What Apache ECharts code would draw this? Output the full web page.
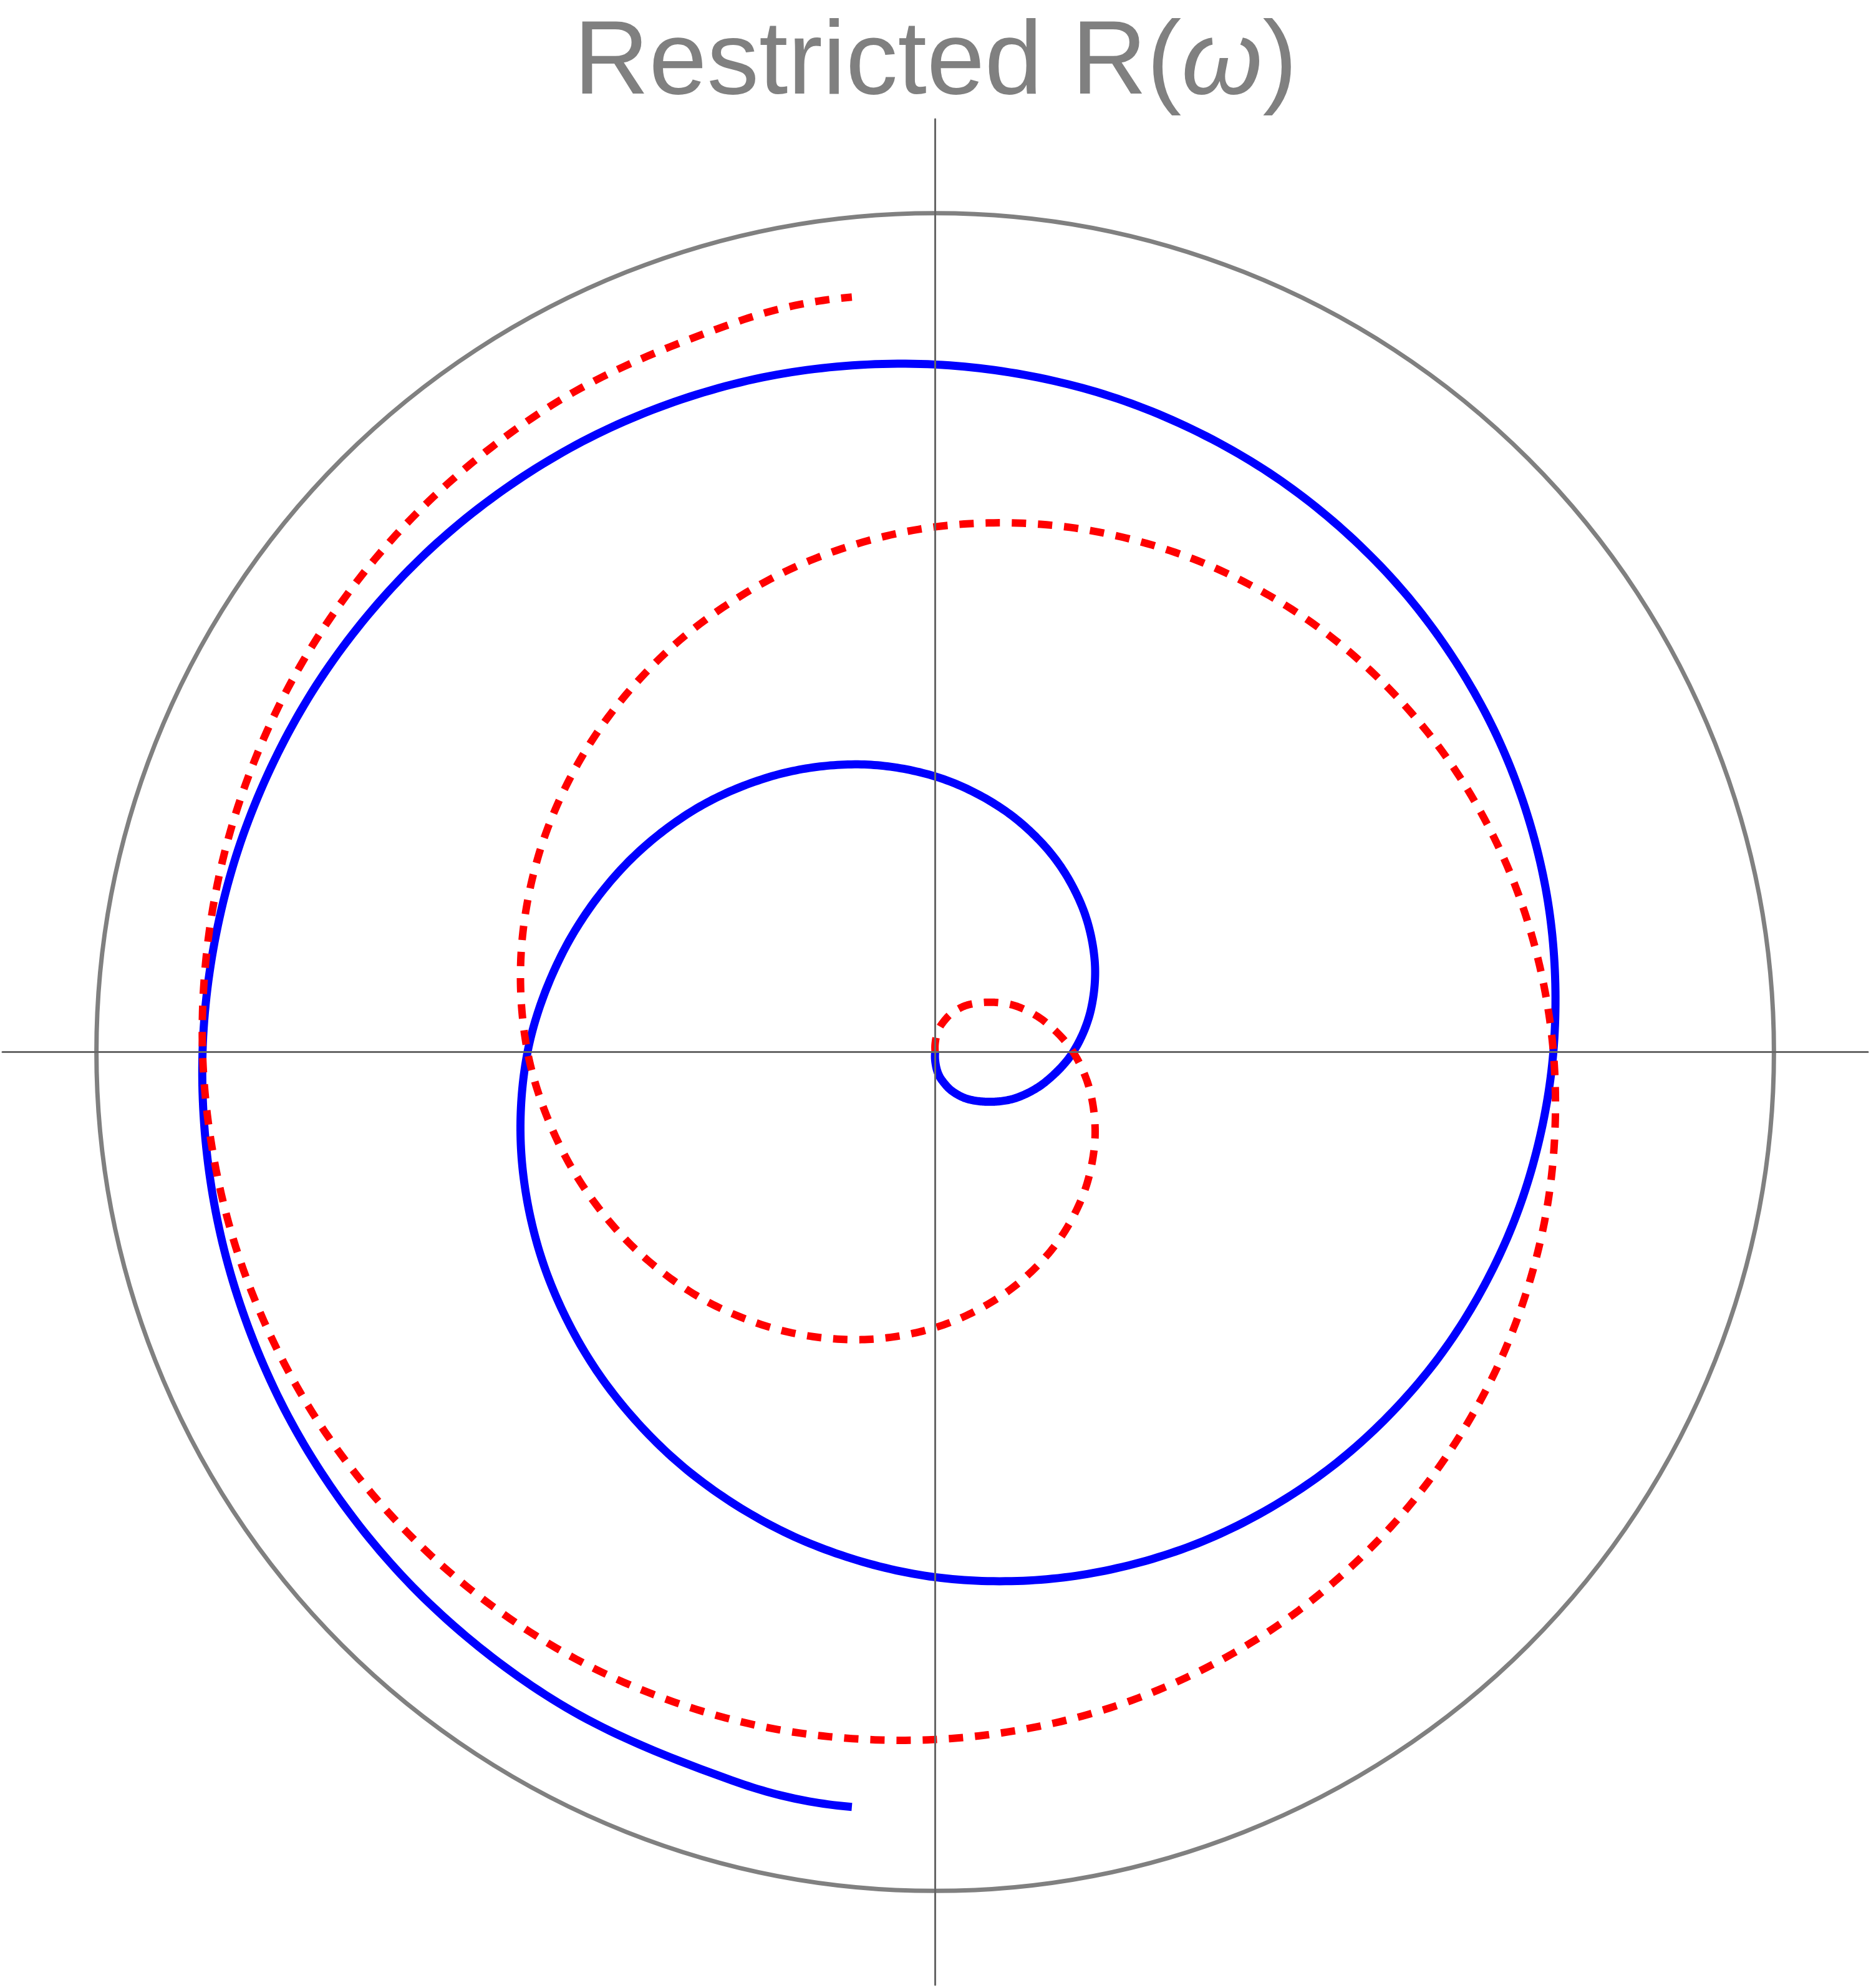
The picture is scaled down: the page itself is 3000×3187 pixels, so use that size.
<!DOCTYPE html>
<html>
<head>
<meta charset="utf-8">
<script src="https://cdn.jsdelivr.net/npm/echarts@6/dist/echarts.min.js"></script>
<style>
html,body{margin:0;padding:0;background:#fff;}
#chart{width:3000px;height:3187px;}
</style>
</head>
<body>
<div id="chart"></div>
<script>
// Title pieces
const titleMain = 'Restricted R(';
const titleSymbol = 'ω';
const titleEnd = ')';

// Unit reference circle radius (drawn as the polar angle-axis ring)
const unitRadius = 1;

// Solid blue curve R(ω): polar angle (deg) and modulus
const blueAngle = [
  270, 270, 276.3, 282.7, 293.2, 305.1, 319.5, 331.5, 345,
  0, 15, 30, 45, 60, 75, 90, 105, 120, 135, 150, 165,
  180, 195, 210, 225, 240, 255, 270, 285, 300, 315, 330, 345,
  0, 15, 30, 45, 60, 75, 90, 105, 120, 135, 150, 165,
  180, 195, 210, 225, 240, 255, 263.7
];
const blueRadius = [
  0, 0.0104, 0.0229, 0.0335, 0.0504, 0.0688, 0.0913, 0.1128, 0.1365,
  0.1645, 0.192, 0.2195, 0.247, 0.2745, 0.3015, 0.3285, 0.355, 0.381, 0.4075, 0.4335, 0.4595,
  0.486, 0.510, 0.5335, 0.557, 0.5805, 0.6035, 0.626, 0.6465, 0.6665, 0.6855, 0.7035, 0.7205,
  0.737, 0.7535, 0.769, 0.7835, 0.797, 0.809, 0.8195, 0.8305, 0.8405, 0.8495, 0.858, 0.866,
  0.8735, 0.8797, 0.8855, 0.8911, 0.8966, 0.9021, 0.9053
];

// Dashed red curve (its mirror image): polar angle (deg) and modulus
const redAngle = [
  90, 90, 83.7, 77.3, 66.8, 54.9, 40.5, 28.5, 15,
  0, 345, 330, 315, 300, 285, 270, 255, 240, 225, 210, 195,
  180, 165, 150, 135, 120, 105, 90, 75, 60, 45, 30, 15,
  0, 345, 330, 315, 300, 285, 270, 255, 240, 225, 210, 195,
  180, 165, 150, 135, 120, 105, 96.3
];
const redRadius = [
  0, 0.0104, 0.0229, 0.0335, 0.0504, 0.0688, 0.0913, 0.1128, 0.1365,
  0.1645, 0.192, 0.2195, 0.247, 0.2745, 0.3015, 0.3285, 0.355, 0.381, 0.4075, 0.4335, 0.4595,
  0.486, 0.510, 0.5335, 0.557, 0.5805, 0.6035, 0.626, 0.6465, 0.6665, 0.6855, 0.7035, 0.7205,
  0.737, 0.7535, 0.769, 0.7835, 0.797, 0.809, 0.8195, 0.8305, 0.8405, 0.8495, 0.858, 0.866,
  0.8735, 0.8797, 0.8855, 0.8911, 0.8966, 0.9021, 0.9053
];

// Cartesian axis range (re / im)
const axisRange = [-1.112, 1.112];

const blueData = blueRadius.map((r, i) => [r, blueAngle[i]]);
const redData = redRadius.map((r, i) => [r, redAngle[i]]);

// layout
const W = 3000, H = 3187;
const gridLeft = 4, gridRight = 5, gridTop = 191, gridBottom = 5;
const gridW = W - gridLeft - gridRight;
const gridH = H - gridTop - gridBottom;
const cx = gridLeft + gridW / 2;
const cy = gridTop + gridH / 2;
const pxPerUnit = gridW / (axisRange[1] - axisRange[0]);

// ---- smooth curve rendering through the (pixel) points ----
function reflectCp(a, b, cp) {
  const dx = b[0] - a[0], dy = b[1] - a[1];
  const L = Math.hypot(dx, dy) || 1;
  const ux = dx / L, uy = dy / L;
  const wx = cp[0] - a[0], wy = cp[1] - a[1];
  const along = wx * ux + wy * uy;
  const px = wx - along * ux, py = wy - along * uy;
  return [b[0] - along * ux + px, b[1] - along * uy + py];
}
function smoothPath(pts, s, samples) {
  const n = pts.length;
  if (n < 3) return pts.slice();
  const cpIn = new Array(n), cpOut = new Array(n);
  for (let i = 1; i < n - 1; i++) {
    const p = pts[i], a = pts[i - 1], b = pts[i + 1];
    const vx = (b[0] - a[0]) * s, vy = (b[1] - a[1]) * s;
    let d0 = Math.hypot(p[0] - a[0], p[1] - a[1]);
    let d1 = Math.hypot(p[0] - b[0], p[1] - b[1]);
    const sum = d0 + d1;
    if (sum > 0) { d0 /= sum; d1 /= sum; }
    cpIn[i] = [p[0] - vx * d0, p[1] - vy * d0];
    cpOut[i] = [p[0] + vx * d1, p[1] + vy * d1];
  }
  cpOut[0] = reflectCp(pts[1], pts[0], cpIn[1]);
  cpIn[n - 1] = reflectCp(pts[n - 2], pts[n - 1], cpOut[n - 2]);
  const out = [pts[0].slice()];
  for (let i = 0; i < n - 1; i++) {
    const p0 = pts[i], c1 = cpOut[i], c2 = cpIn[i + 1], p1 = pts[i + 1];
    for (let k = 1; k <= samples; k++) {
      const t = k / samples, mt = 1 - t;
      const a = mt * mt * mt, b = 3 * mt * mt * t, c = 3 * mt * t * t, d = t * t * t;
      out.push([a * p0[0] + b * c1[0] + c * c2[0] + d * p1[0],
                a * p0[1] + b * c1[1] + c * c2[1] + d * p1[1]]);
    }
  }
  return out;
}
function curveRenderer(lineStyle) {
  return function (params, api) {
    if (params.dataIndexInside !== 0) return null;
    const n = params.dataInsideLength;
    const pts = [];
    for (let i = 0; i < n; i++) {
      pts.push(api.coord([api.value(0, i), api.value(1, i)]));
    }
    return {
      type: 'polyline',
      silent: true,
      shape: {points: smoothPath(pts, 0.33, 24)},
      style: Object.assign({fill: 'none', lineJoin: 'round'}, lineStyle)
    };
  };
}

const chart = echarts.init(document.getElementById('chart'), null, {renderer: 'canvas'});
const fontFam = '"Liberation Sans", Arial, sans-serif';
const axisCommon = {
  type: 'value',
  min: axisRange[0],
  max: axisRange[1],
  axisLine: {show: true, onZero: true, lineStyle: {color: '#666666', width: 3}},
  axisTick: {show: false},
  axisLabel: {show: false},
  splitLine: {show: false},
  z: 10
};
chart.setOption({
  animation: false,
  backgroundColor: '#ffffff',
  title: {
    text: '{a|' + titleMain + '}{b|' + titleSymbol + '}{a|' + titleEnd + '}',
    left: 'center',
    top: 15,
    textStyle: {
      color: '#808080',
      fontSize: 167,
      fontFamily: fontFam,
      fontWeight: 'normal',
      rich: {
        a: {color: '#808080', fontSize: 167, fontFamily: fontFam, fontWeight: 'normal'},
        b: {color: '#808080', fontSize: 167, fontFamily: fontFam, fontWeight: 'normal', fontStyle: 'italic'}
      }
    }
  },
  grid: {left: gridLeft, right: gridRight, top: gridTop, bottom: gridBottom, containLabel: false},
  xAxis: axisCommon,
  yAxis: Object.assign({}, axisCommon),
  polar: {center: [cx, cy], radius: pxPerUnit * unitRadius},
  angleAxis: {
    type: 'value', min: 0, max: 360, startAngle: 0, clockwise: false,
    axisLine: {show: true, lineStyle: {color: '#808080', width: 7}},
    axisTick: {show: false}, axisLabel: {show: false}, splitLine: {show: false}
  },
  radiusAxis: {
    type: 'value', min: 0, max: unitRadius,
    axisLine: {show: false}, axisTick: {show: false}, axisLabel: {show: false}, splitLine: {show: false}
  },
  series: [
    {
      type: 'scatter',
      coordinateSystem: 'cartesian2d',
      data: [],
      silent: true
    },
    {
      type: 'custom',
      coordinateSystem: 'polar',
      data: blueData,
      silent: true,
      z: 3,
      renderItem: curveRenderer({stroke: '#0000ff', lineWidth: 13, lineCap: 'butt'})
    },
    {
      type: 'custom',
      coordinateSystem: 'polar',
      data: redData,
      silent: true,
      z: 4,
      renderItem: curveRenderer({stroke: '#ff0000', lineWidth: 12, lineCap: 'butt', lineDash: [23, 19]})
    }
  ]
});
</script>
</body>
</html>
